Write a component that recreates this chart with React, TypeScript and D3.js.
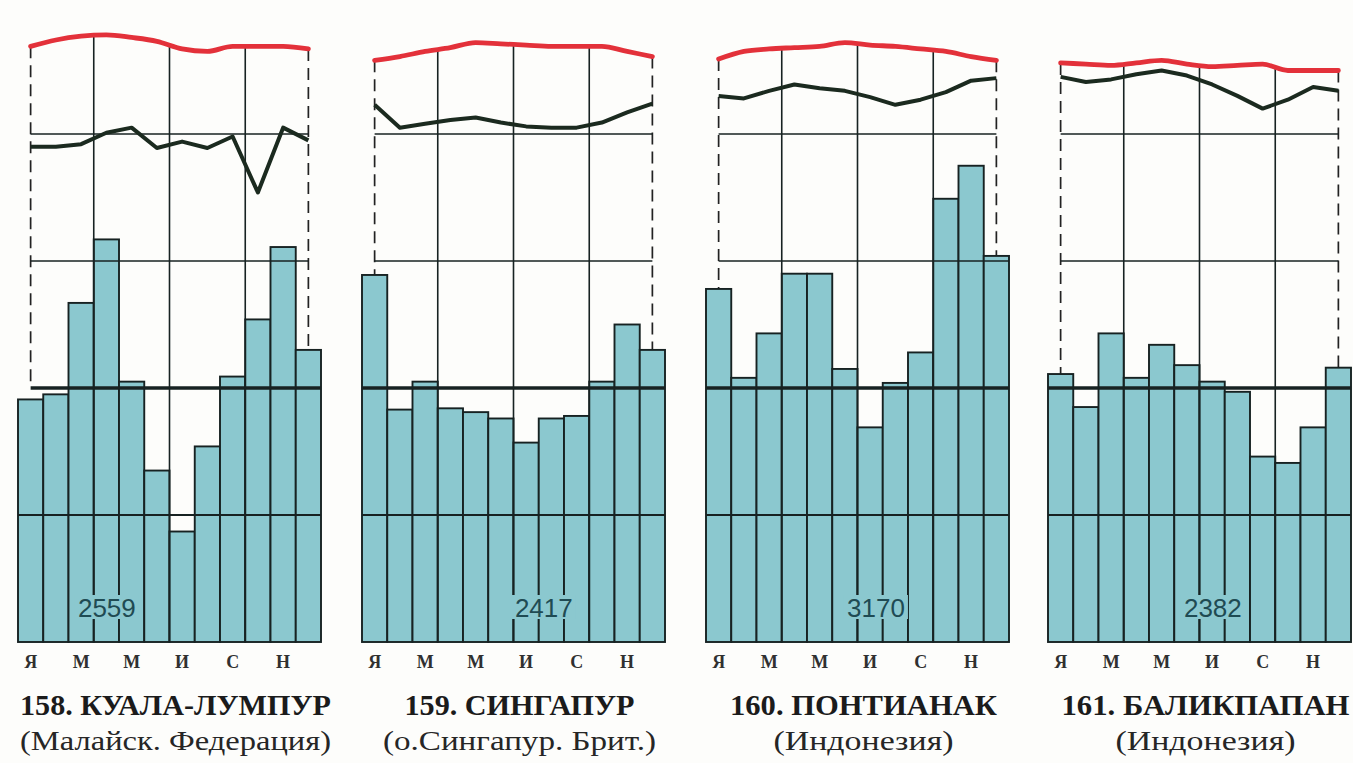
import React from 'react';
import * as d3 from 'd3';

// ---------- DATA ----------
const monthLetters = ['Я', 'Ф', 'М', 'А', 'М', 'И', 'И', 'А', 'С', 'О', 'Н', 'Д'];
const shownMonthIdx = [0, 2, 4, 6, 8, 10];

const stationTitles = ['158. КУАЛА-ЛУМПУР', '159. СИНГАПУР', '160. ПОНТИАНАК', '161. БАЛИКПАПАН'];
const stationCountries = ['(Малайск. Федерация)', '(о.Сингапур. Брит.)', '(Индонезия)', '(Индонезия)'];
const annualTotals = ['2559', '2417', '3170', '2382'];

// monthly precipitation, mm
const precipKualaLumpur = [191, 195, 267, 317, 205, 135, 87, 154, 209, 254, 311, 230];
const precipSingapore = [289, 183, 205, 184, 181, 176, 157, 176, 178, 205, 250, 230];
const precipPontianak = [278, 208, 243, 290, 290, 215, 169, 204, 228, 349, 375, 304];
const precipBalikpapan = [211, 185, 243, 208, 234, 218, 205, 197, 146, 141, 169, 216];

// red curve, °C
const redKualaLumpur = [26.9, 27.4, 27.7, 27.8, 27.6, 27.3, 26.7, 26.5, 26.9, 26.9, 26.9, 26.7];
const redSingapore = [25.8, 26.1, 26.5, 26.8, 27.2, 27.1, 27.0, 26.9, 26.9, 26.9, 26.5, 26.1];
const redPontianak = [25.9, 26.5, 26.7, 26.8, 26.9, 27.2, 27.0, 26.9, 26.7, 26.5, 26.1, 25.8];
const redBalikpapan = [25.6, 25.5, 25.4, 25.6, 25.8, 25.5, 25.3, 25.4, 25.5, 25.0, 25.0, 25.0];

// black curve, °C
const blackKualaLumpur = [19.0, 19.0, 19.2, 20.1, 20.5, 18.9, 19.4, 18.9, 19.8, 15.4, 20.5, 19.5];
const blackSingapore = [22.3, 20.5, 20.8, 21.1, 21.3, 20.9, 20.6, 20.5, 20.5, 20.9, 21.7, 22.4];
const blackPontianak = [23.0, 22.8, 23.4, 23.9, 23.6, 23.4, 22.9, 22.3, 22.7, 23.3, 24.2, 24.4];
const blackBalikpapan = [24.5, 24.1, 24.3, 24.7, 25.0, 24.6, 23.9, 23.0, 22.0, 22.7, 23.7, 23.4];

const precipitation = [precipKualaLumpur, precipSingapore, precipPontianak, precipBalikpapan];
const redCurves = [redKualaLumpur, redSingapore, redPontianak, redBalikpapan];
const blackCurves = [blackKualaLumpur, blackSingapore, blackPontianak, blackBalikpapan];

const precipGrid = [100, 200, 300, 400];
const quarterBoundaries = [3, 6, 9];

// ---------- LAYOUT ----------
const W = 1353;
const H = 763;
const panelLefts = [18, 362, 706, 1048];
const panelWidth = 303;
const baseY = 642;
const titleWidths = [311, 230, 267, 288];
const subtitleWidths = [311, 273, 180, 180];
const totalAnchor = [3.52, 7.2, 6.73, 6.53]; // in month widths from panel left

const BAR_FILL = '#8bc8cf';
const INK = '#172222';

const yScale = d3.scaleLinear().domain([0, 400]).range([baseY, 134]);
const tScale = d3.scaleLinear().domain([0, 20]).range([yScale(200), yScale(400)]);

function Panel({ i }: { i: number }) {
  const left = panelLefts[i];
  const x = d3
    .scaleBand<number>()
    .domain(d3.range(12))
    .range([left, left + panelWidth])
    .padding(0);
  const bw = x.bandwidth();
  const cx = (m: number) => (x(m) as number) + bw / 2;
  const pr = precipitation[i];
  const red = redCurves[i];
  const blk = blackCurves[i];

  const redLine = d3
    .line<number>()
    .x((_, m) => cx(m))
    .y((v) => tScale(v))
    .curve(d3.curveMonotoneX);
  const blackLine = d3
    .line<number>()
    .x((_, m) => cx(m))
    .y((v) => tScale(v))
    .curve(d3.curveLinear);

  const dashL = cx(0);
  const dashR = cx(11);
  const clipId = `clip-${i}`;
  const panelCenter = left + panelWidth / 2 + 6;

  const totalX = left + totalAnchor[i] * bw;

  return (
    <g>
      <defs>
        <clipPath id={clipId}>
          <rect x={dashL} y={0} width={dashR - dashL} height={baseY} />
          {pr.map((v, m) => (
            <rect key={m} x={x(m)} y={yScale(v)} width={bw} height={baseY - yScale(v)} />
          ))}
        </clipPath>
      </defs>

      {/* dashed side lines */}
      {[0, 11].map((m) => (
        <line
          key={m}
          x1={cx(m)}
          x2={cx(m)}
          y1={tScale(red[m])}
          y2={yScale(200)}
          stroke="#222"
          strokeWidth={1.7}
          strokeDasharray="12,7"
        />
      ))}

      {/* bars */}
      {pr.map((v, m) => (
        <rect
          key={m}
          x={x(m)}
          y={yScale(v)}
          width={bw}
          height={baseY - yScale(v)}
          fill={BAR_FILL}
          stroke={INK}
          strokeWidth={1.9}
        />
      ))}

      {/* horizontal grid lines */}
      <g clipPath={`url(#${clipId})`}>
        {precipGrid.map((g) => (
          <line
            key={g}
            x1={left}
            x2={left + panelWidth}
            y1={yScale(g)}
            y2={yScale(g)}
            stroke={INK}
            strokeWidth={g === 200 ? 3.4 : g === 100 ? 1.9 : 1.5}
          />
        ))}
      </g>

      {/* vertical quarter lines */}
      {quarterBoundaries.map((b) => {
        const xb = x(b) as number;
        const yTop = tScale((red[b - 1] + red[b]) / 2);
        return (
          <line key={b} x1={xb} x2={xb} y1={yTop} y2={baseY} stroke={INK} strokeWidth={1.6} />
        );
      })}

      {/* total label with knockout */}
      <rect x={totalX - 32} y={595} width={64} height={24} fill={BAR_FILL} />
      <text
        x={totalX}
        y={617}
        textAnchor="middle"
        fontFamily="'Liberation Sans', Arial, sans-serif"
        fontSize={26}
        fill="#1f4b53"
      >
        {annualTotals[i]}
      </text>

      {/* curves */}
      <path d={blackLine(blk) || ''} fill="none" stroke="#1b2a1f" strokeWidth={4} strokeLinejoin="round" />
      <path d={redLine(red) || ''} fill="none" stroke="#e3313a" strokeWidth={4.8} strokeLinecap="round" />

      {/* month letters */}
      {shownMonthIdx.map((m) => (
        <text
          key={m}
          x={cx(m)}
          y={668}
          textAnchor="middle"
          fontFamily="'Liberation Serif', 'DejaVu Serif', serif"
          fontWeight="bold"
          fontSize={18}
          fill="#303030"
        >
          {monthLetters[m]}
        </text>
      ))}

      {/* title */}
      <text
        x={panelCenter}
        y={715}
        textAnchor="middle"
        fontFamily="'Liberation Serif', 'DejaVu Serif', serif"
        fontWeight="bold"
        fontSize={29}
        fill="#1b1b1b"
        textLength={titleWidths[i]}
        lengthAdjust="spacingAndGlyphs"
      >
        {stationTitles[i]}
      </text>
      <text
        x={panelCenter}
        y={750}
        textAnchor="middle"
        fontFamily="'Liberation Serif', 'DejaVu Serif', serif"
        fontSize={27}
        fill="#262626"
        textLength={subtitleWidths[i]}
        lengthAdjust="spacingAndGlyphs"
      >
        {stationCountries[i]}
      </text>
    </g>
  );
}

export default function App() {
  return (
    <svg
      width={W}
      height={H}
      viewBox={`0 0 ${W} ${H}`}
      style={{ position: 'fixed', left: 0, top: 0, display: 'block', background: '#fdfdfb' }}
    >
      <rect x={0} y={0} width={W} height={H} fill="#fdfdfb" />
      {panelLefts.map((_, i) => (
        <Panel key={i} i={i} />
      ))}
    </svg>
  );
}
